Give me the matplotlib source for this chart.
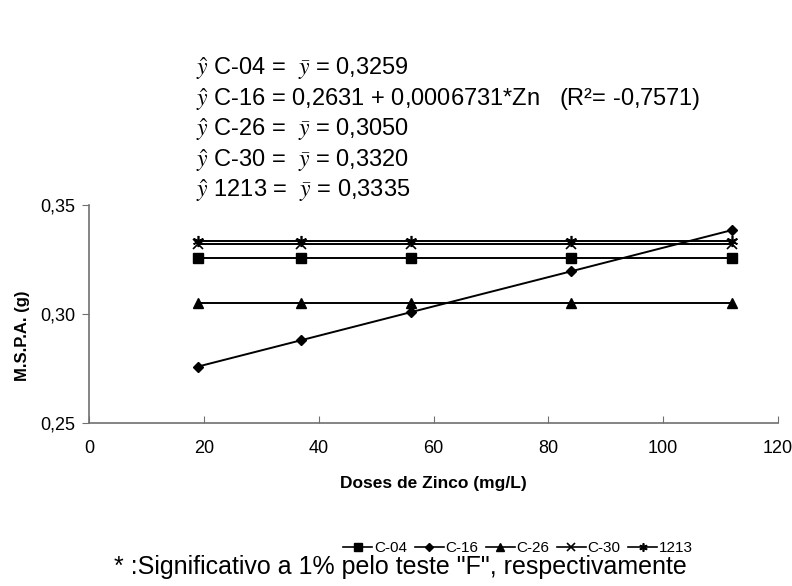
import matplotlib
matplotlib.use("Agg")
import matplotlib.pyplot as plt
from matplotlib.lines import Line2D

plt.rcParams['font.family'] = ['Liberation Sans', 'DejaVu Sans']
plt.rcParams['mathtext.fontset'] = 'stix'

doses = [19, 37, 56, 84, 112]
series_names = ["C-04", "C-16", "C-26", "C-30", "1213"]
c04 = [0.3259, 0.3259, 0.3259, 0.3259, 0.3259]
c16 = [0.2759, 0.2880, 0.3008, 0.3196, 0.3385]
c26 = [0.3050, 0.3050, 0.3050, 0.3050, 0.3050]
c30 = [0.3320, 0.3320, 0.3320, 0.3320, 0.3320]
l1213 = [0.3335, 0.3335, 0.3335, 0.3335, 0.3335]
xticks = [0, 20, 40, 60, 80, 100, 120]
yticks = [0.25, 0.30, 0.35]
ytick_labels = ["0,25", "0,30", "0,35"]
equations = [
    r"$\hat{y}$ C-04 =  $\bar{y}$ = 0,3259",
    r"$\hat{y}$ C-16 = 0,2631 + 0,0006731*Zn   (R²= -0,7571)",
    r"$\hat{y}$ C-26 =  $\bar{y}$ = 0,3050",
    r"$\hat{y}$ C-30 =  $\bar{y}$ = 0,3320",
    r"$\hat{y}$ 1213 =  $\bar{y}$ = 0,3335",
]
footnote = '* :Significativo a 1% pelo teste "F", respectivamente'

W, H = 792, 586
fig = plt.figure(figsize=(W / 100, H / 100), dpi=100)
ax = fig.add_axes([89 / W, 1 - 423 / H, (778 - 89) / W, (423 - 205) / H])

styles = [
    dict(marker='s', ms=7),
    dict(marker='D', ms=5.5),
    dict(marker='^', ms=7.5),
    dict(marker='x', ms=7, mew=1.2),
    dict(marker=(6, 2, 0), ms=8, mew=1.2),
]
data = [c04, c16, c26, c30, l1213]
for name, vals, st in zip(series_names, data, styles):
    ax.plot(doses, vals, color='black', lw=1.4, mfc='black', mec='black',
            label=name, clip_on=False, **st)

ax.set_xlim(0, 120)
ax.set_ylim(0.25, 0.35)
ax.set_xticks(xticks)
ax.set_xticklabels([str(t) for t in xticks])
ax.set_yticks(yticks)
ax.set_yticklabels(ytick_labels)
for s in ['top', 'right']:
    ax.spines[s].set_visible(False)
for s in ['left', 'bottom']:
    ax.spines[s].set_color('#707070')
    ax.spines[s].set_linewidth(1.2)
ax.tick_params(axis='x', direction='in', length=5, color='#707070', labelsize=13, pad=12)
ax.tick_params(axis='y', direction='out', length=5, color='#707070', labelsize=13, pad=5)
ax.set_xlabel("Doses de Zinco (mg/L)", fontsize=12.5, fontweight='bold', labelpad=14)
ax.set_ylabel("M.S.P.A. (g)", fontsize=12, fontweight='bold')
ax.yaxis.set_label_coords(-0.086, 0.40)

y0 = 69
for i, eq in enumerate(equations):
    fig.text(196 / W, 1 - (y0 + i * 30.5) / H, eq, fontsize=17, va='center', ha='left')

leg_handles = []
for st in styles:
    st2 = dict(st)
    st2['ms'] = st2['ms'] * 0.75
    leg_handles.append(Line2D([], [], color='black', lw=1.2, mfc='black', mec='black', **st2))
fig.legend(leg_handles, series_names, loc='center', bbox_to_anchor=(518 / W, 1 - 548 / H),
           ncol=5, frameon=False, fontsize=11, handlelength=1.9, handletextpad=0.1,
           columnspacing=0.5)

fig.text(400 / W, 1 - 567 / H, footnote, fontsize=18, ha='center', va='center')

fig.savefig("out.png", dpi=100)
